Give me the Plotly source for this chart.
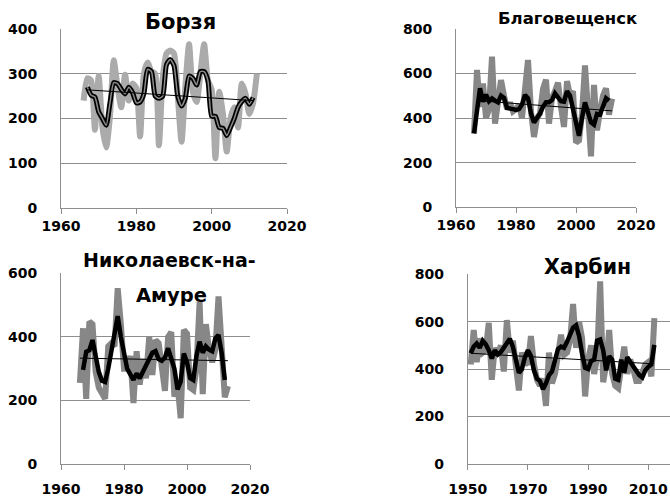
import plotly.graph_objects as go

# ---------------- data ----------------
borzya_years = list(range(1966, 2013))
borzya_values = [240, 290, 285, 175, 295, 180, 135, 205, 330, 272, 225, 298, 240, 278, 268,
                 160, 300, 325, 305, 300, 140, 290, 345, 352, 345, 250, 148, 270, 366, 260,
                 237, 300, 366, 285, 265, 111, 260, 210, 126, 200, 225, 180, 278, 255, 210,
                 235, 300]
borzya_ma_years = list(range(1967, 2012))
borzya_ma = [270, 252, 248, 215, 200, 185, 235, 280, 278, 265, 255, 270, 258, 235, 237,
             255, 310, 305, 250, 245, 250, 320, 332, 318, 250, 228, 245, 295, 290, 275,
             305, 305, 285, 205, 205, 180, 178, 162, 180, 200, 225, 238, 245, 232, 247]
borzya_trend_years = [1967, 2011]
borzya_trend = [264, 240]

blag_years = list(range(1966, 2013))
blag_values = [330, 615, 450, 555, 400, 440, 675, 375, 470, 570, 500, 440, 470, 430, 440,
               460, 400, 520, 660, 430, 315, 400, 420, 530, 572, 375, 490, 520, 558, 450,
               360, 565, 500, 520, 290, 300, 420, 635, 420, 228, 548, 345, 430, 500, 533,
               415, 487]
blag_ma_years = list(range(1966, 2012))
blag_ma = [331, 440, 533, 473, 505, 475, 488, 478, 470, 500, 490, 445, 440, 440, 436,
           440, 460, 503, 488, 420, 380, 400, 420, 450, 470, 470, 480, 510, 490, 475,
           473, 520, 500, 436, 360, 320, 400, 470, 425, 380, 370, 418, 415, 455, 488, 477]
blag_trend_years = [1967, 2012]
blag_trend = [478, 432]

nik_years = list(range(1966, 2014))
nik_values = [255, 427, 205, 448, 440, 290, 240, 220, 205, 370, 380, 370, 553, 440, 300,
              300, 340, 192, 355, 250, 330, 270, 400, 280, 390, 380, 300, 230, 400, 415,
              212, 250, 144, 422, 410, 240, 233, 300, 511, 220, 440, 360, 320, 360, 527,
              350, 210, 245]
nik_ma_years = list(range(1967, 2013))
nik_ma = [296, 353, 358, 390, 340, 290, 262, 258, 300, 350, 400, 465, 400, 340, 300,
          282, 265, 285, 270, 290, 310, 330, 350, 355, 330, 325, 335, 364, 330, 300,
          235, 260, 348, 320, 270, 264, 340, 385, 350, 370, 360, 355, 395, 406, 350, 264]
nik_trend_years = [1966, 2013]
nik_trend = [333, 325]

harbin_years = list(range(1951, 2013))
harbin_values = [420, 565, 430, 530, 470, 480, 595, 355, 490, 460, 500, 390, 607, 470, 520,
                 420, 310, 470, 430, 420, 540, 420, 355, 330, 360, 245, 470, 340, 380, 460,
                 545, 460, 470, 520, 675, 490, 600, 530, 285, 440, 500, 380, 450, 770, 345,
                 420, 565, 380, 330, 320, 420, 495, 380, 440, 400, 350, 350, 380, 420, 430,
                 370, 615]
harbin_ma_years = list(range(1951, 2013))
harbin_ma = [467, 495, 508, 490, 520, 505, 480, 445, 480, 462, 472, 490, 505, 528, 495,
             440, 385, 400, 450, 480, 455, 395, 360, 350, 315, 340, 375, 390, 430, 485,
             495, 490, 515, 550, 575, 585, 540, 465, 405, 400, 435, 440, 520, 525, 480,
             395, 455, 440, 360, 355, 440, 385, 450, 430, 410, 395, 375, 365, 395, 410,
             420, 502]
harbin_trend_years = [1951, 2011]
harbin_trend = [467, 423]

titles = ["Борзя", "Благовещенск", "Николаевск-на-", "Амуре", "Харбин"]
x_ticks_a = [1960, 1980, 2000, 2020]
x_ticks_b = [1950, 1970, 1990, 2010]

# ---------------- figure ----------------
W, H = 670, 497
fig = go.Figure()

GRAY_LIGHT = "#ababab"
GRAY = "#878787"
AX = "#8e8e8e"
FONT = "DejaVu Sans"


def add_panel(idx, yrs, vals, ma_yrs, ma, tr_yrs, tr, gray, outlined=False, shape="linear"):
    xa = "x" if idx == 1 else f"x{idx}"
    ya = "y" if idx == 1 else f"y{idx}"
    fig.add_trace(go.Scatter(x=yrs, y=vals, mode="lines", xaxis=xa, yaxis=ya,
                             line=dict(color=gray, width=6, shape=shape, smoothing=0.6),
                             showlegend=False, hoverinfo="skip"))
    fig.add_trace(go.Scatter(x=ma_yrs, y=ma, mode="lines", xaxis=xa, yaxis=ya,
                             line=dict(color="#000000", width=5 if outlined else 4.5,
                                       shape=shape, smoothing=0.6),
                             showlegend=False, hoverinfo="skip"))
    if outlined:
        fig.add_trace(go.Scatter(x=ma_yrs, y=ma, mode="lines", xaxis=xa, yaxis=ya,
                                 line=dict(color="#8a8a8a", width=1.5, shape=shape, smoothing=0.6),
                                 showlegend=False, hoverinfo="skip"))
    fig.add_trace(go.Scatter(x=tr_yrs, y=tr, mode="lines", xaxis=xa, yaxis=ya,
                             line=dict(color="#000000", width=1),
                             showlegend=False, hoverinfo="skip"))


add_panel(1, borzya_years, borzya_values, borzya_ma_years, borzya_ma,
          borzya_trend_years, borzya_trend, GRAY_LIGHT, outlined=True, shape="spline")
add_panel(2, blag_years, blag_values, blag_ma_years, blag_ma,
          blag_trend_years, blag_trend, GRAY)
add_panel(3, nik_years, nik_values, nik_ma_years, nik_ma,
          nik_trend_years, nik_trend, GRAY)
add_panel(4, harbin_years, harbin_values, harbin_ma_years, harbin_ma,
          harbin_trend_years, harbin_trend, GRAY)

tickfont = dict(family=FONT, size=14, color="#000000", weight="bold")


def xaxis(dom, rng, ticks, anchor, standoff):
    return dict(domain=dom, range=rng, tickvals=ticks, showgrid=False, zeroline=False,
                showline=True, linecolor=AX, linewidth=1, ticks="outside", ticklen=5,
                tickcolor=AX, tickfont=tickfont, anchor=anchor, fixedrange=True,
                automargin=False, ticklabelstandoff=standoff)


def yaxis(dom, rng, dtick, anchor):
    return dict(domain=dom, range=rng, dtick=dtick, showgrid=True, gridcolor=AX, gridwidth=1,
                zeroline=False, showline=True, linecolor=AX, linewidth=1, ticks="",
                tickfont=tickfont, anchor=anchor, ticklabelstandoff=20, fixedrange=True,
                automargin=False)


def px_x(a, b):
    return [a / W, b / W]


def px_y(top, bottom):
    return [1 - bottom / H, 1 - top / H]


fig.update_layout(
    width=W, height=H, margin=dict(l=0, r=0, t=0, b=0, autoexpand=False),
    paper_bgcolor="white", plot_bgcolor="white",
    xaxis=xaxis(px_x(61, 287), [1960, 2020], x_ticks_a, "y", 0),
    yaxis=yaxis(px_y(29, 208), [0, 400], 100, "x"),
    xaxis2=xaxis(px_x(456, 636), [1960, 2020], x_ticks_a, "y2", 0),
    yaxis2=yaxis(px_y(28.7, 207.3), [0, 800], 200, "x2"),
    xaxis3=xaxis(px_x(61, 250), [1960, 2020], x_ticks_a, "y3", 7),
    yaxis3=yaxis(px_y(273.3, 464), [0, 600], 200, "x3"),
    xaxis4=xaxis(px_x(467.7, 670), [1950, 2017.2], x_ticks_b, "y4", 7),
    yaxis4=yaxis(px_y(274.3, 464), [0, 800], 200, "x4"),
)

title_pos = [(180, 22, 21), (567, 18.5, 16.5), (169, 260, 19), (171.5, 295, 19.5), (587.5, 267, 20.5)]
for t, (cx, cy, fs) in zip(titles, title_pos):
    fig.add_annotation(text=t, x=cx / W, y=1 - cy / H, xref="paper", yref="paper",
                       showarrow=False, xanchor="center", yanchor="middle",
                       font=dict(family=FONT, size=fs, color="#000000", weight="bold"))

fig.write_html("out.html", config={"displayModeBar": False},
               post_script="document.body.style.margin='0';document.body.style.overflow='hidden';")
